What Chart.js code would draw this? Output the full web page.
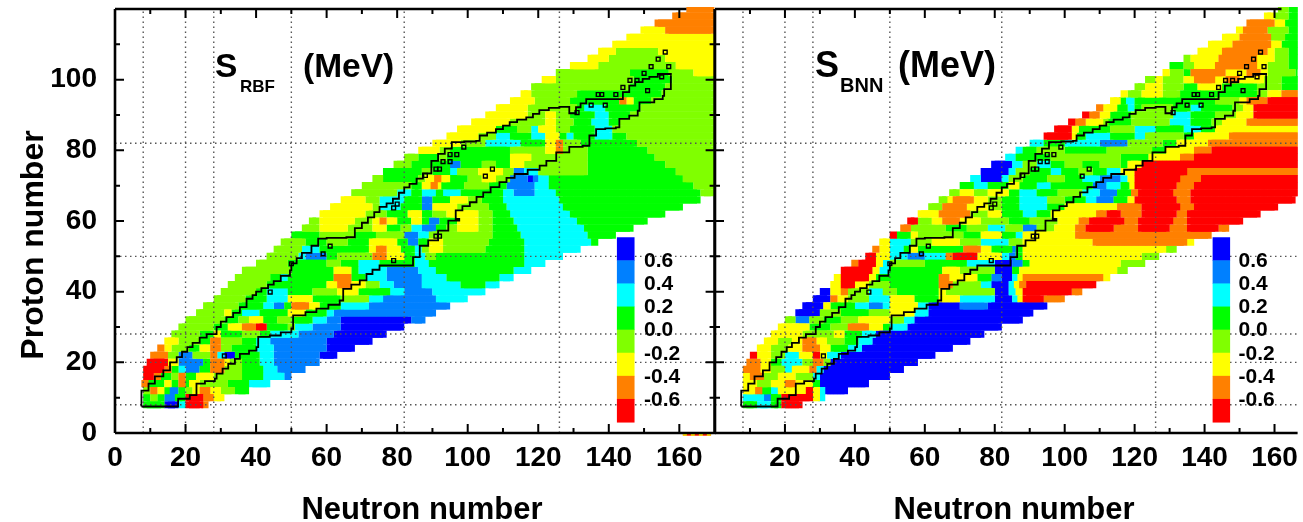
<!DOCTYPE html>
<html>
<head>
<meta charset="utf-8">
<style>
  html, body { margin: 0; padding: 0; background: #fff; overflow: hidden; }
  canvas { position: absolute; top: 0; }
  #rbf { left: 0; z-index: 2; }
  #bnn { left: 700px; z-index: 1; }
</style>
<script src="https://cdn.jsdelivr.net/npm/chart.js@4"></script>
</head>
<body>
<canvas id="rbf" width="720" height="522" style="width:720px;height:522px"></canvas>
<canvas id="bnn" width="603" height="522" style="width:603px;height:522px"></canvas>
<script>
// colour classes of the residual, red (-0.6) up to blue (0.6)
var levelColors = ['#ff0000', '#ff8000', '#ffff00', '#80ff00', '#00ff00', '#00ffff', '#0080ff', '#0000ff'];
var barLabels = ['0.6', '0.4', '0.2', '0.0', '-0.2', '-0.4', '-0.6'];
var magicNumbers = [8, 20, 28, 50, 82, 126];
var xLabelValues = [0, 20, 40, 60, 80, 100, 120, 140, 160];
var yLabelValues = [0, 20, 40, 60, 80, 100];

// one row per proton number: [Z, first N, class, end N, class, end N, ...]
var rbfRows = [
  [8, 8, 4,14, 7,18, 5,20, 0,25, 1,26],
  [10, 8, 4,10, 3,12, 4,14, 6,17, 4,20, 0,25, 1,28, 2,31],
  [12, 8, 3,10, 1,12, 2,14, 4,15, 6,18, 4,20, 3,22, 2,24, 1,27, 2,30, 3,34, 4,38],
  [14, 8, 1,9, 4,14, 2,16, 4,18, 1,20, 4,21, 2,24, 3,32, 4,38, 5,44],
  [16, 8, 0,11, 1,13, 4,16, 3,18, 1,20, 4,23, 2,28, 3,36, 4,42, 5,48, 6,50],
  [18, 8, 0,14, 1,16, 4,18, 5,20, 6,24, 4,27, 1,31, 3,36, 4,42, 5,46, 6,54],
  [20, 9, 0,15, 2,18, 6,25, 4,27, 1,31, 2,32, 3,36, 4,41, 5,45, 6,58],
  [22, 10, 1,15, 3,18, 6,22, 3,27, 1,29, 5,31, 7,34, 4,41, 5,45, 6,58, 7,63],
  [24, 12, 1,14, 2,16, 3,21, 4,24, 2,27, 1,30, 3,33, 4,40, 5,45, 6,60, 7,68],
  [26, 14, 2,18, 3,24, 4,27, 1,30, 3,36, 4,40, 5,44, 6,60, 7,73],
  [28, 16, 3,24, 4,28, 2,30, 4,36, 3,41, 4,44, 5,52, 6,62, 7,77],
  [30, 18, 3,28, 4,32, 2,36, 1,40, 0,43, 4,49, 3,51, 5,56, 6,64, 7,82],
  [32, 20, 3,31, 4,35, 3,38, 2,42, 4,46, 3,50, 4,56, 5,60, 6,64, 7,84, 6,88],
  [34, 23, 3,31, 2,33, 4,36, 5,41, 4,49, 2,54, 4,60, 5,62, 6,91],
  [36, 25, 3,35, 4,42, 5,45, 6,48, 4,50, 1,55, 2,58, 4,64, 5,72, 6,95],
  [38, 28, 3,37, 4,43, 5,49, 2,56, 4,64, 3,72, 5,76, 6,91, 5,100],
  [40, 30, 3,40, 4,43, 5,49, 4,56, 3,63, 2,69, 4,78, 5,82, 6,90, 5,105],
  [42, 32, 3,43, 4,60, 2,63, 1,67, 2,71, 3,75, 5,79, 6,87, 5,98, 4,105, 5,109],
  [44, 34, 3,44, 4,47, 5,49, 4,62, 1,67, 4,71, 5,77, 6,87, 5,94, 4,109, 5,113],
  [46, 36, 3,50, 4,62, 2,67, 4,69, 5,77, 6,86, 5,91, 4,113, 5,118],
  [48, 40, 3,49, 4,60, 3,64, 4,69, 5,75, 4,85, 5,89, 4,116, 5,122],
  [50, 43, 3,52, 5,54, 6,60, 4,63, 3,73, 1,77, 2,82, 4,85, 5,88, 3,91, 4,116, 5,127],
  [52, 45, 3,53, 5,58, 4,72, 2,74, 1,77, 2,81, 4,85, 5,87, 3,89, 2,93, 3,105, 4,116, 5,132],
  [54, 47, 3,54, 4,60, 3,66, 4,72, 2,80, 4,83, 6,86, 4,89, 2,93, 3,106, 4,116, 5,135, 4,137],
  [56, 50, 4,58, 3,68, 4,74, 3,82, 6,86, 5,89, 3,107, 4,115, 5,134, 4,142],
  [58, 53, 3,58, 2,66, 3,73, 2,77, 4,81, 3,84, 5,87, 6,91, 4,94, 3,97, 2,103, 3,107, 4,114, 5,133, 4,147],
  [60, 55, 3,58, 2,68, 3,73, 2,75, 1,77, 2,80, 4,84, 2,87, 4,89, 6,92, 4,97, 2,103, 3,107, 4,113, 5,131, 4,151],
  [62, 58, 2,71, 3,77, 4,83, 2,87, 4,90, 3,94, 2,103, 3,107, 4,112, 5,129, 4,156],
  [64, 61, 2,73, 3,75, 5,81, 4,87, 6,90, 2,97, 3,106, 4,111, 5,127, 4,161],
  [66, 64, 2,71, 3,75, 5,82, 4,87, 6,90, 4,95, 2,100, 3,104, 4,110, 5,126, 4,166],
  [68, 67, 3,80, 5,84, 4,87, 5,91, 4,93, 5,98, 4,110, 5,113, 6,119, 5,125, 4,166, 3,170],
  [70, 70, 3,84, 4,87, 2,90, 1,91, 2,92, 4,99, 3,106, 4,111, 6,119, 5,123, 4,164, 3,170],
  [72, 73, 3,76, 4,86, 3,88, 2,91, 1,92, 2,95, 4,100, 3,104, 2,108, 3,112, 6,117, 7,119, 6,120, 5,123, 4,161, 3,170],
  [74, 76, 4,87, 3,90, 4,95, 5,97, 3,103, 2,110, 3,113, 6,116, 5,120, 3,134, 4,159, 3,170],
  [76, 79, 3,84, 4,95, 6,98, 4,104, 3,108, 4,112, 2,116, 3,134, 4,156, 3,170],
  [78, 82, 3,86, 4,92, 3,94, 4,112, 2,118, 3,134, 4,153, 3,170],
  [80, 86, 2,92, 3,95, 4,112, 3,122, 2,125, 1,127, 3,134, 4,151, 3,170],
  [82, 90, 2,98, 3,105, 5,115, 4,122, 2,125, 1,127, 3,132, 4,148, 3,170],
  [84, 94, 2,103, 3,108, 5,112, 4,118, 5,122, 2,126, 4,128, 5,130, 4,136, 5,141, 4,145, 3,170],
  [86, 97, 2,108, 4,114, 3,118, 5,120, 2,125, 3,129, 4,136, 5,141, 3,170],
  [88, 101, 2,112, 3,122, 2,125, 3,130, 4,135, 5,140, 4,143, 3,170],
  [90, 105, 2,117, 3,122, 2,125, 3,129, 4,136, 5,140, 4,146, 3,170],
  [92, 108, 2,117, 3,131, 4,133, 5,139, 4,149, 3,170],
  [94, 112, 2,119, 3,129, 4,143, 1,145, 2,147, 4,152, 3,170],
  [96, 115, 2,118, 3,131, 4,155, 3,170],
  [98, 118, 3,146, 4,156, 3,170],
  [100, 121, 2,125, 3,147, 4,158, 3,170],
  [102, 125, 3,146, 4,157, 3,164, 2,170],
  [104, 129, 2,137, 3,159, 2,170],
  [106, 134, 2,140, 3,156, 2,170],
  [108, 137, 2,142, 3,154, 2,170],
  [110, 141, 2,170],
  [112, 145, 2,170],
  [114, 149, 2,156, 1,170],
  [116, 153, 1,170],
  [118, 158, 1,170],
  [120, 162, 1,170]
];

var bnnRows = [
  [8, 8, 4,12, 5,16, 4,19, 0,25],
  [10, 8, 5,14, 6,16, 4,19, 0,28, 2,30, 5,31],
  [12, 8, 2,12, 1,13, 4,16, 5,18, 2,26, 0,28, 2,30, 5,31, 7,38],
  [14, 8, 2,12, 3,16, 2,20, 1,23, 2,28, 4,30, 7,44],
  [16, 8, 2,10, 1,14, 3,18, 2,23, 3,28, 5,30, 7,50],
  [18, 8, 1,13, 2,16, 3,20, 5,22, 2,27, 1,29, 5,31, 7,54],
  [20, 9, 1,13, 2,16, 4,19, 5,25, 3,28, 1,31, 3,33, 7,58],
  [22, 10, 0,12, 2,16, 3,20, 5,24, 2,28, 0,30, 2,32, 5,36, 7,63],
  [24, 12, 2,16, 3,21, 2,25, 1,30, 2,33, 4,38, 5,42, 7,68],
  [26, 14, 2,18, 3,22, 2,25, 1,29, 2,32, 3,37, 4,41, 5,45, 7,73],
  [28, 16, 2,25, 3,34, 2,37, 4,42, 5,46, 7,77],
  [30, 18, 2,27, 4,33, 3,38, 1,44, 2,48, 4,50, 5,55, 7,82],
  [32, 20, 3,23, 6,27, 3,31, 4,36, 3,41, 2,50, 3,54, 5,57, 7,88],
  [34, 23, 7,30, 3,36, 4,44, 3,50, 2,57, 5,61, 7,91],
  [36, 25, 7,31, 2,33, 4,40, 5,44, 6,48, 5,50, 2,58, 5,61, 7,70, 6,78, 7,95],
  [38, 28, 7,33, 1,35, 2,38, 3,44, 5,50, 2,57, 4,64, 2,70, 5,80, 7,85, 5,87, 2,88, 0,94, 1,100],
  [40, 30, 7,33, 2,36, 1,38, 3,44, 5,48, 3,52, 4,64, 2,66, 3,80, 7,84, 5,86, 2,88, 0,102, 1,105],
  [42, 33, 2,36, 0,40, 2,44, 3,50, 4,64, 1,68, 3,76, 5,79, 7,84, 5,86, 2,87, 1,89, 0,109],
  [44, 34, 2,36, 0,44, 2,46, 4,64, 1,67, 2,75, 4,79, 6,82, 7,85, 5,87, 2,88, 1,111, 2,113],
  [46, 36, 0,45, 2,47, 5,50, 4,65, 2,70, 3,80, 7,85, 4,87, 2,115, 3,118],
  [48, 39, 1,41, 0,46, 2,48, 5,50, 3,60, 4,72, 5,80, 7,85, 6,88, 4,90, 2,116, 3,123],
  [50, 43, 0,46, 2,50, 5,55, 6,60, 5,66, 1,68, 0,75, 2,82, 5,84, 6,86, 4,88, 2,122, 3,127],
  [52, 45, 1,47, 2,50, 5,54, 4,56, 2,58, 4,71, 1,76, 2,79, 4,85, 6,86, 4,88, 2,129, 3,132],
  [54, 47, 2,50, 5,56, 3,62, 2,70, 3,76, 5,84, 3,88, 2,108, 1,135, 2,137],
  [56, 50, 0,52, 4,56, 2,58, 3,71, 4,76, 2,82, 4,86, 5,88, 2,103, 1,142],
  [58, 53, 1,56, 3,66, 4,72, 3,78, 5,83, 3,88, 6,92, 3,97, 2,103, 1,106, 0,114, 1,121, 0,130, 1,135, 0,144, 1,147],
  [60, 55, 0,58, 3,62, 2,65, 1,70, 2,76, 3,84, 4,90, 3,98, 2,104, 1,107, 0,117, 1,121, 0,131, 1,135, 0,151],
  [62, 58, 2,64, 1,73, 3,78, 2,82, 4,88, 5,92, 4,96, 2,109, 1,112, 0,116, 1,122, 0,132, 1,135, 0,156],
  [64, 61, 3,65, 1,72, 2,78, 3,82, 4,87, 5,95, 4,100, 2,115, 1,122, 0,133, 1,137, 0,161],
  [66, 64, 3,67, 2,68, 1,74, 2,78, 3,82, 4,87, 5,95, 3,100, 4,106, 5,109, 6,114, 4,118, 2,120, 0,132, 1,136, 0,166],
  [68, 67, 3,70, 2,74, 3,78, 2,84, 4,87, 5,92, 4,98, 3,105, 5,110, 6,115, 4,119, 1,121, 0,131, 1,136, 0,170],
  [70, 70, 4,74, 5,78, 4,84, 2,87, 4,92, 5,96, 4,108, 6,112, 5,116, 4,119, 2,120, 0,132, 1,137, 0,170],
  [72, 73, 5,76, 7,82, 5,84, 3,88, 4,95, 3,100, 4,105, 5,110, 6,116, 5,118, 2,120, 0,133, 1,139, 0,170],
  [74, 76, 7,84, 5,86, 3,90, 4,96, 5,99, 4,104, 3,108, 4,112, 5,116, 2,120, 0,135, 1,170],
  [76, 79, 7,85, 5,88, 3,92, 5,96, 4,100, 3,105, 4,110, 3,116, 4,118, 2,122, 0,170],
  [78, 83, 5,86, 4,96, 3,116, 4,124, 2,133, 1,137, 0,170],
  [80, 86, 5,88, 4,92, 3,100, 4,112, 3,125, 4,129, 2,137, 1,142, 0,170],
  [82, 90, 5,94, 4,100, 5,110, 6,118, 3,128, 4,132, 2,141, 1,170],
  [84, 94, 0,102, 2,103, 4,106, 5,113, 4,120, 5,123, 3,134, 4,137, 2,147, 1,170],
  [86, 97, 0,102, 2,104, 4,113, 3,120, 5,126, 4,134, 5,139, 4,143, 2,170],
  [88, 101, 0,103, 1,106, 2,111, 3,112, 4,119, 3,130, 5,136, 4,142, 3,145, 2,152, 1,170],
  [90, 105, 0,107, 1,110, 2,113, 4,119, 3,131, 5,136, 4,143, 3,149, 2,154, 0,170],
  [92, 109, 1,111, 2,115, 4,118, 5,120, 4,122, 3,131, 4,136, 5,139, 4,148, 3,151, 2,154, 0,170],
  [94, 113, 2,116, 4,117, 5,120, 4,143, 3,150, 2,152, 1,158, 0,170],
  [96, 116, 2,118, 3,122, 2,128, 3,133, 4,155, 3,158, 2,162, 1,170],
  [98, 120, 3,123, 2,128, 3,134, 4,138, 2,145, 4,155, 3,162, 4,170],
  [100, 123, 3,126, 2,128, 3,134, 2,137, 1,143, 2,146, 1,150, 2,157, 3,162, 4,170],
  [102, 128, 2,130, 3,134, 4,136, 1,146, 2,152, 1,156, 2,158, 3,166, 4,170],
  [104, 130, 4,134, 3,137, 2,143, 1,155, 2,158, 3,164, 4,170],
  [106, 134, 3,136, 2,144, 1,155, 2,160, 3,164, 4,170],
  [108, 138, 2,145, 1,158, 2,160, 3,164, 4,170],
  [110, 141, 2,148, 1,159, 2,162, 4,170],
  [112, 145, 2,150, 1,159, 3,163, 4,170],
  [114, 149, 2,151, 1,158, 3,164, 4,170],
  [116, 152, 1,160, 2,163, 4,170],
  [118, 157, 2,160, 3,164, 4,170],
  [120, 161, 3,164, 4,170]
];

// known-nuclei contour, same on both panels
var upperN = [7.5,7.5,9.5,11.3,13.7,15.6,17.5,19,20.5,22,24,26,28.8,30,31.6,33.5,35.4,37.3,39,40,41.5,43.4,45,47,49.6,50,51.5,53,55.7,57.6,60,63,65.6,68,70,71.7,73.5,75,77,78.8,80.5,82,83.5,85.5,87.3,89.7,91.6,93.5,95.5,99,102.4,103.4,105.5,108,110,111.9,114,116.6,118.5,120.3,123,126,128.8,130.7,132,133.6,138,142,144,145.8,147.5,149.6,151.5,153.9,157.6];
var upperZ = [7.5,12,14,16,17.7,20,21.5,23,24.3,25.5,27,28,30,31.5,32.8,34,35.6,38,39,40,41,42,43,44.5,46,48,49.5,51,53,55,55.2,55.2,55.4,58,59.5,61,62.5,64,65,66.3,68,69.5,70.5,72,73.5,77,79,80.5,82.3,82.5,82.7,84.2,85,86,87,88,88.7,89.3,90.3,91.4,92,92.3,90.5,92.2,93.3,94.5,94.5,94.5,96.5,98.3,99.3,100.2,100.8,101.6,101.1];
var lowerN = [7.5,14.6,17.9,21.2,23.1,25.5,28.3,28.8,30.5,32.1,34,35.4,38,40.1,40.6,43.9,47,50,50.5,54,57.1,60.5,63.7,64.7,67,69.4,71.3,73,75,79,82.6,84.5,86.4,88.8,91.6,94.5,94.5,97.6,96.6,98.5,100.6,102.5,104.4,106.5,109,111,113.3,117,120.4,122.3,125.1,128.8,132.6,134.5,136.4,139,142,143,145.8,148.2,148.7,152.4,152.9,155.3,155.7,157.6,157.6];
var lowerZ = [7.5,7.5,9.7,10.7,14,14.7,15.4,16.8,18.2,19.6,21,22.4,23.3,24.3,27.2,27.6,28.5,29.5,33.3,34.2,35.2,36.3,37.5,40.8,42,43.2,45,46.2,47.4,47.4,47.4,49.8,53,54.5,57.3,58.7,60.1,60.6,63,64.2,65.3,66.8,68.1,69.6,71,72.2,73.3,74.5,75.7,77,79.4,81,81.3,84.2,86,86.2,86.5,88.9,89.8,91.2,93.6,93.6,94.5,95.4,97.3,99.7,101.1];
var isolatedN = [98.9,96.9,95,95,93,91,92,107,105,131,135,139,137,138,142,144,146,148,150,152,154,156,157,155,151,59,61,50,44,31,79,79,80,91,92,88];
var isolatedZ = [80.9,78.8,78.8,76.8,76.8,74.7,74.7,74.7,72.7,90.7,92.8,92.8,95.8,95.8,95.8,97.8,99.8,99.8,101.8,103.7,105.8,107.8,103.7,100.8,96.9,50.7,52.9,47.9,39.9,21.8,48.8,63.7,64.8,55.7,55.7,72.9];
// the little red and yellow streak under the left panel's axis
var streakN = [161, 169];
var streakZ = [-0.5, -0.5];

var FONT = "'Liberation Sans', Arial, sans-serif";

function cellDatasets(rows) {
  var cells = levelColors.map(function () { return []; });
  rows.forEach(function (row) {
    var z = row[0], from = row[1];
    for (var i = 2; i < row.length; i += 2) {
      var to = row[i + 1];
      if (to - from < 2) cells[row[i]].push({ x: (from + to) / 2, y: z });
      for (var n = from + 1; n < to; n++) cells[row[i]].push({ x: n, y: z });
      from = to;
    }
  });
  return cells.map(function (pts, i) {
    return {
      data: pts,
      backgroundColor: levelColors[i],
      borderWidth: 0,
      pointStyle: 'rect',
      pointRadius: 5.1,
      showLine: false,
      clip: { left: 0, right: 0, top: 2, bottom: 0 }
    };
  });
}

function xy(xs, ys) {
  return xs.map(function (v, i) { return { x: v, y: ys[i] }; });
}

// chart.js paints the first dataset last, so these go in front of the cells
function overlayDatasets(xMax, withStreak) {
  var list = [];
  list.push({
    data: xy(isolatedN, isolatedZ),
    showLine: false,
    pointStyle: 'rect',
    pointRadius: 2.7,
    backgroundColor: 'rgba(0,0,0,0)',
    borderColor: '#000',
    borderWidth: 1.4
  });
  [xy(upperN, upperZ), xy(lowerN, lowerZ)].forEach(function (pts) {
    list.push({ data: pts, showLine: true, stepped: true, pointRadius: 0, borderColor: '#000', borderWidth: 1.8 });
  });
  magicNumbers.forEach(function (m) {
    list.push({ data: xy([m, m], [0, 120]), showLine: true, pointRadius: 0, borderColor: '#555', borderWidth: 1.4, borderDash: [1.5, 3.5] });
    if (m < 120) list.push({ data: xy([0, xMax], [m, m]), showLine: true, pointRadius: 0, borderColor: '#555', borderWidth: 1.4, borderDash: [1.5, 3.5] });
  });
  if (withStreak) {
    list.push({ data: xy(streakN, streakZ), showLine: true, pointRadius: 0, borderColor: '#ffee00', borderWidth: 2, borderDash: [4, 4], clip: { left: 0, right: 0, top: 0, bottom: 5 } });
    list.push({ data: xy(streakN, streakZ), showLine: true, pointRadius: 0, borderColor: '#ff2000', borderWidth: 2, clip: { left: 0, right: 0, top: 0, bottom: 5 } });
  }
  return list;
}

// frame with inward ticks, colour bar and text
function panelPlugin(p) {
  return {
    id: 'panel' + p.name,
    afterDraw: function (chart) {
      var ctx = chart.ctx, a = chart.chartArea, sx = chart.scales.x, sy = chart.scales.y;
      ctx.save();
      ctx.strokeStyle = '#000';
      ctx.fillStyle = '#000';
      ctx.lineWidth = 2.6;
      ctx.beginPath();
      ctx.moveTo(a.left, a.bottom); ctx.lineTo(a.right + (p.rightSpine ? 1 : 0), a.bottom);
      ctx.moveTo(a.left, a.top); ctx.lineTo(a.left, a.bottom);
      ctx.moveTo(a.left, a.top); ctx.lineTo(sx.getPixelForValue(162), a.top);
      if (p.rightSpine) { ctx.moveTo(a.right, a.top); ctx.lineTo(a.right, a.bottom); }
      ctx.stroke();
      ctx.lineWidth = 2;
      ctx.beginPath();
      for (var n = 10; n < sx.max; n += 10) {
        var px = sx.getPixelForValue(n), len = n % 20 === 0 ? 9 : 5;
        ctx.moveTo(px, a.bottom); ctx.lineTo(px, a.bottom - len);
        if (n < 162) { ctx.moveTo(px, a.top); ctx.lineTo(px, a.top + len); }
      }
      for (var z = 10; z < 120; z += 10) {
        var py = sy.getPixelForValue(z), l = z % 20 === 0 ? 9 : 5;
        ctx.moveTo(a.left, py); ctx.lineTo(a.left + l, py);
        if (p.rightSpine) { ctx.moveTo(a.right, py); ctx.lineTo(a.right - l, py); }
      }
      ctx.stroke();

      // colour bar lives in data coordinates, N 142.3-147.3
      var barLeft = sx.getPixelForValue(142.3), barRight = sx.getPixelForValue(147.3);
      var barTop = sy.getPixelForValue(55.4), step = (sy.getPixelForValue(3.1) - barTop) / levelColors.length;
      levelColors.slice().reverse().forEach(function (c, i) {
        ctx.fillStyle = c;
        ctx.fillRect(barLeft, barTop + i * step, barRight - barLeft, step + 0.5);
      });
      ctx.fillStyle = '#000';
      ctx.font = 'bold 21px ' + FONT;
      ctx.textBaseline = 'middle';
      ctx.textAlign = 'left';
      barLabels.forEach(function (t, i) {
        ctx.fillText(t, sx.getPixelForValue(150) + p.barShift, barTop + (i + 1) * step + 1);
      });

      // headline
      ctx.textBaseline = 'alphabetic';
      ctx.font = 'bold ' + p.headSize + 'px ' + FONT;
      ctx.fillText('S', p.headX, 77);
      ctx.font = 'bold ' + p.subSize + 'px ' + FONT;
      ctx.fillText(p.sub, p.headX + 25, 92);
      ctx.font = 'bold ' + p.headSize + 'px ' + FONT;
      ctx.fillText('(MeV)', p.unitX, 77);

      // axis titles
      ctx.font = 'bold 31px ' + FONT;
      ctx.textAlign = 'center';
      ctx.fillText('Neutron number', p.titleX, 519);
      if (p.yTitle) {
        ctx.font = 'bold 32px ' + FONT;
        ctx.translate(43, 245);
        ctx.rotate(-Math.PI / 2);
        ctx.fillText(p.yTitle, 0, 0);
      }
      ctx.restore();
    }
  };
}

function fixPadding(s) {
  s.paddingTop = 0; s.paddingBottom = 0; s.paddingLeft = 0; s.paddingRight = 0;
}

function makeChart(id, rows, xMax, yWidth, p) {
  return new Chart(document.getElementById(id), {
    type: 'scatter',
    data: { datasets: overlayDatasets(xMax, p.rightSpine).concat(cellDatasets(rows)) },
    options: {
      responsive: false,
      animation: false,
      events: [],
      layout: { padding: { top: 9, right: p.rightPad, bottom: 0, left: 0 } },
      plugins: { legend: { display: false }, tooltip: { enabled: false } },
      scales: {
        x: {
          type: 'linear', min: 0, max: xMax,
          grid: { display: false }, border: { display: false },
          afterBuildTicks: function (s) {
            s.ticks = xLabelValues.filter(function (v) { return v >= p.firstLabel; }).map(function (v) { return { value: v }; });
          },
          afterFit: function (s) { s.height = 89; fixPadding(s); },
          ticks: { autoSkip: false, maxRotation: 0, padding: 0, color: '#000', font: { family: FONT, weight: 'bold', size: 28 } }
        },
        y: {
          type: 'linear', min: 0, max: 120,
          grid: { display: false }, border: { display: false },
          afterBuildTicks: function (s) {
            s.ticks = yLabelValues.map(function (v) { return { value: v }; });
          },
          afterFit: function (s) { s.width = yWidth; fixPadding(s); },
          ticks: { display: p.showY, autoSkip: false, padding: 10, color: '#000', font: { family: FONT, weight: 'bold', size: 28 } }
        }
      }
    },
    plugins: [panelPlugin(p)]
  });
}

makeChart('rbf', rbfRows, 170, 115, {
  name: 'rbf', rightPad: 5, rightSpine: true, showY: true, firstLabel: 0, barShift: 0,
  headX: 215, unitX: 303, headSize: 33.5, subSize: 17, sub: 'RBF', titleX: 422, yTitle: 'Proton number'
});
makeChart('bnn', bnnRows, 166.6, 15, {
  name: 'bnn', rightPad: 0, rightSpine: false, showY: false, firstLabel: 20, barShift: -1,
  headX: 115, unitX: 198, headSize: 36, subSize: 20, sub: 'BNN', titleX: 314, yTitle: null
});
</script>
</body>
</html>
